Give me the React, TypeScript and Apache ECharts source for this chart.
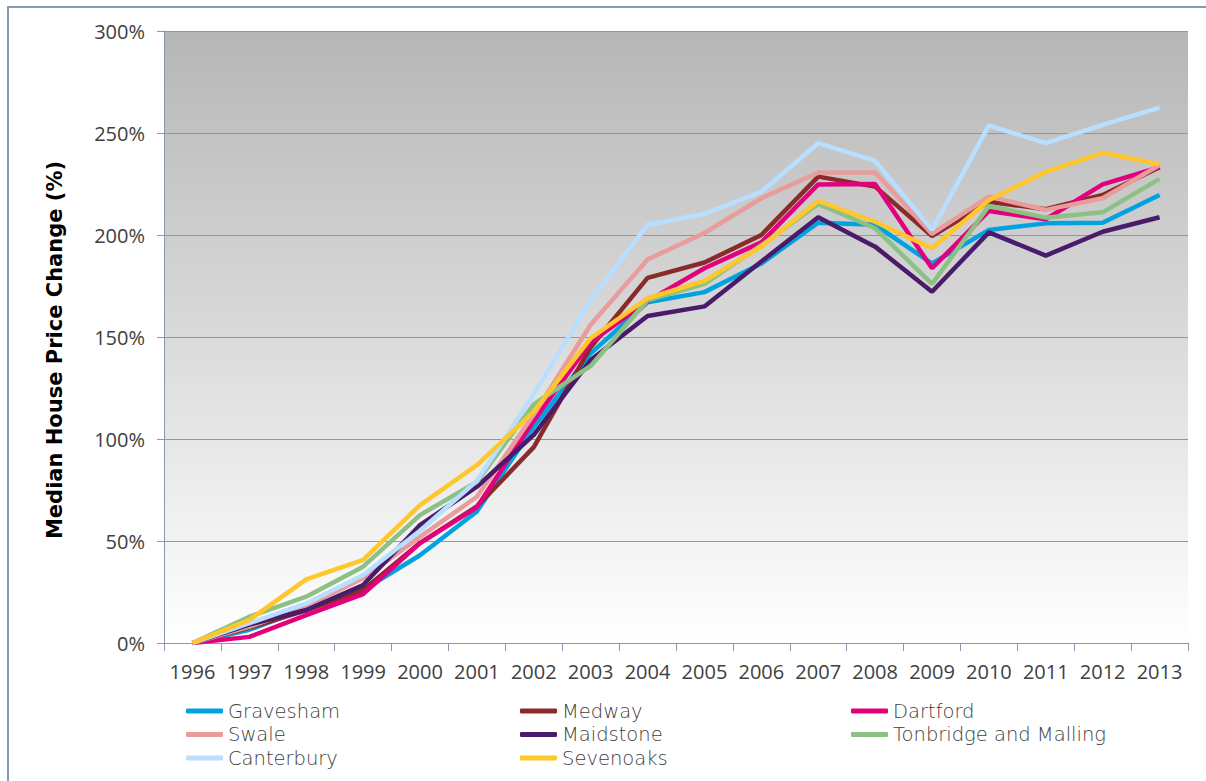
import React, { useEffect, useRef } from "react";
import * as echarts from "echarts";

const years = ["1996","1997","1998","1999","2000","2001","2002","2003","2004","2005","2006","2007","2008","2009","2010","2011","2012","2013"];

const gravesham = [0, 6.5, 17, 26, 43, 64.5, 106, 142, 167, 172, 186, 206, 205, 186, 202.5, 205.7, 206, 219.6];
const medway = [0, 7.5, 16, 26, 49, 67, 96, 145, 179, 186.5, 200, 228.6, 223.7, 199.5, 216.3, 212.6, 219.6, 233.2];
const dartford = [0, 3, 13.7, 24, 49, 66.5, 109, 147.5, 167.5, 183.7, 196.4, 224.8, 225, 183.7, 211.8, 207.7, 224.8, 233.2];
const swale = [0, 8, 18, 31.7, 52, 71.7, 112, 156, 188, 201, 218, 230.6, 230.6, 200.5, 218.8, 212.3, 218, 234.3];
const maidstone = [0, 9, 16.2, 28.4, 57.8, 76.6, 102, 138.7, 160.3, 165, 187, 208.7, 194.3, 172.2, 201.3, 189.9, 201.6, 208.7];
const tonbridge = [0, 12.9, 22.7, 37.4, 62.7, 79, 117, 135.8, 168, 176, 195, 215.2, 203.3, 176, 214.2, 208.5, 211.1, 227.5];
const canterbury = [0, 9.7, 19.4, 33.3, 55, 79.5, 122, 168, 205, 210.3, 221.2, 245, 236.3, 202.5, 253.6, 245, 254, 262.4];
const sevenoaks = [0, 11.3, 31.2, 40.7, 67.6, 87.2, 113.4, 149.4, 169, 177.5, 194.3, 216.7, 206.5, 193.5, 217, 231, 240.3, 234.7];

const seriesNames = ["Gravesham", "Medway", "Dartford", "Swale", "Maidstone", "Tonbridge and Malling", "Canterbury", "Sevenoaks"];
const seriesData = [gravesham, medway, dartford, swale, maidstone, tonbridge, canterbury, sevenoaks];
const seriesColors = ["#00a3e0", "#8b2a2a", "#e3007d", "#e89c9c", "#4a1a6b", "#8cc084", "#b8dfff", "#ffc72c"];

const yTicks = [0, 50, 100, 150, 200, 250, 300];

const legendCols = [
  ["Gravesham", "Swale", "Canterbury"],
  ["Medway", "Maidstone", "Sevenoaks"],
  ["Dartford", "Tonbridge and Malling"],
];
const legendLefts = [186, 520, 851];

const FONT = "'Open Sans', 'DejaVu Sans', sans-serif";
const LEGEND_FONT = "'DejaVu Sans', sans-serif";
const AXIS = "#8a97b1";

export default function App() {
  const ref = useRef<HTMLDivElement>(null);
  useEffect(() => {
    if (!ref.current) return;
    const chart = echarts.init(ref.current, null, { renderer: "svg" });
    chart.setOption({
      animation: false,
      backgroundColor: "#ffffff",
      grid: {
        left: 164,
        top: 31,
        right: 18,
        bottom: 138,
        show: true,
        borderWidth: 0,
        backgroundColor: new echarts.graphic.LinearGradient(0, 0, 0, 1, [
          { offset: 0, color: "#b6b6b7" },
          { offset: 1, color: "#ffffff" },
        ]),
      },
      xAxis: {
        type: "category",
        data: years,
        boundaryGap: true,
        axisLine: { show: true, lineStyle: { color: AXIS, width: 1 } },
        axisTick: { show: true, length: 8, lineStyle: { color: AXIS } },
        axisLabel: { color: "#404040", fontSize: 20, fontFamily: FONT, margin: 18, interval: 0 },
        splitLine: { show: false },
      },
      yAxis: {
        type: "value",
        min: yTicks[0],
        max: yTicks[yTicks.length - 1],
        interval: 50,
        axisLine: { show: true, lineStyle: { color: AXIS, width: 1 } },
        axisTick: { show: true, length: 7, lineStyle: { color: AXIS } },
        axisLabel: { color: "#404040", fontSize: 20, fontFamily: FONT, margin: 19, formatter: "{value}%" },
        splitLine: { show: true, lineStyle: { color: AXIS, width: 1 } },
      },
      legend: legendCols.map((col, i) => ({
        data: col,
        orient: "vertical",
        left: legendLefts[i],
        top: 701,
        itemWidth: 37,
        itemHeight: 5,
        itemGap: 3.5,
        icon: "roundRect",
        padding: 0,
        textStyle: { color: "#404040", fontSize: 19.5, fontWeight: 200, fontFamily: LEGEND_FONT, lineHeight: 20 },
      })),
      graphic: [
        {
          type: "rect",
          shape: { x: 8, y: 7, width: 1240, height: 820 },
          style: { fill: "none", stroke: AXIS, lineWidth: 2 },
          z: -1,
          silent: true,
        },
        {
          type: "text",
          x: 55,
          y: 350,
          rotation: Math.PI / 2,
          style: {
            text: "Median House Price Change (%)",
            fontSize: 21,
            fontWeight: "bold",
            fontFamily: "'DejaVu Sans', sans-serif",
            fill: "#000000",
            align: "center",
            verticalAlign: "middle",
          },
        },
      ],
      series: seriesNames.map((name, i) => ({
        name,
        type: "line",
        data: seriesData[i],
        showSymbol: false,
        symbol: "none",
        lineStyle: { color: seriesColors[i], width: 4.5 },
        itemStyle: { color: seriesColors[i] },
      })),
    });
    return () => chart.dispose();
  }, []);
  return <div ref={ref} style={{ position: "fixed", left: 0, top: 0, width: 1206, height: 781 }} />;
}
